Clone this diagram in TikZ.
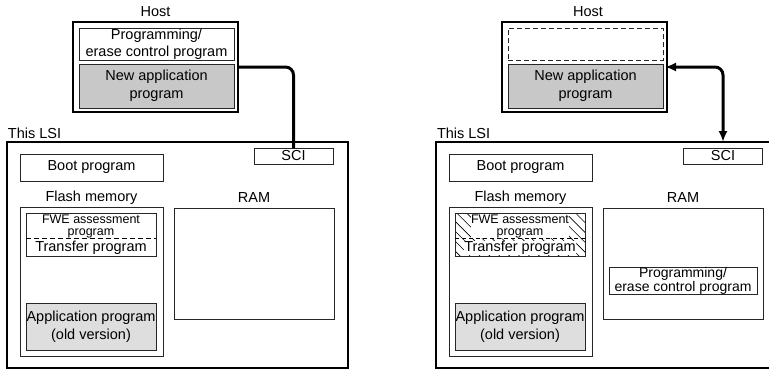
\documentclass[tikz,border=0pt]{standalone}
\usepackage{fontspec}
\setmainfont{Liberation Sans}
\usetikzlibrary{arrows.meta,patterns.meta}
\definecolor{newgray}{HTML}{C8C8C8}
\definecolor{oldgray}{HTML}{DEDEDE}
\begin{document}
\begin{tikzpicture}[x=1pt,y=-1pt,
  every node/.style={font=\fontsize{14.5}{17}\selectfont, inner sep=0pt, outer sep=0pt},
  box/.style={draw=black!85, line width=0.9pt, rectangle, align=center},
  heavy/.style={draw=black, line width=2.6pt, rectangle},
  two/.style={font=\fontsize{14.5}{18}\selectfont, align=center},
  small/.style={font=\fontsize{12.5}{12}\selectfont, align=center, fill=white},
  tight/.style={font=\fontsize{14}{14}\selectfont, align=center},
  conn/.style={line width=3pt, rounded corners=8pt},
  twoway/.style={arrows={Latex[length=11pt,width=9pt]-Latex[length=11pt,width=9pt]}},
  hatch/.style={pattern={Lines[angle=-45,distance=7pt,line width=0.6pt]}},
]
\useasboundingbox (0,0) rectangle (769,370);

% ---------------- left panel ----------------
\begin{scope}
\node[heavy, minimum width=165pt, minimum height=90pt] (hostL) at (155.5,67) {};
\node (hostlblL) at (155.5,12) {Host};
\node[box, two, font=\fontsize{14.5}{16.5}\selectfont, minimum width=155pt, minimum height=32pt] (progL) at (156.5,44) {Programming/\\erase control program};
\node[box, two, fill=newgray, minimum width=155pt, minimum height=44pt] (newL) at (156.5,86) {New application\\program};
\node[heavy, minimum width=341pt, minimum height=226pt] (lsiL) at (177.5,255) {};
\node[anchor=west] (lsilblL) at (8,133) {This LSI};
\node[box, fill=white, minimum width=79pt, minimum height=16pt] (sciL) at (293.5,156) {SCI};
\draw[conn] (hostL.east) -| (sciL.north);
\node[box, minimum width=143pt, minimum height=27pt] (bootL) at (91.5,167.5) {Boot program};
\node (flashlblL) at (91.5,198) {Flash memory};
\node (ramlblL) at (254,198) {RAM};
\node[box, minimum width=143pt, minimum height=149pt] (flashL) at (91.5,281.5) {};
\node[box, minimum width=130pt, minimum height=43pt] (fweL) at (91,234.5) {};
\node[small] (fwetL) at (91,226) {FWE assessment\\program};
\node (trL) at (91,248) {Transfer program};
\coordinate (dashaL) at (26,238);
\coordinate (dashbL) at (156,238);
\draw[line width=0.9pt, dash pattern=on 5pt off 3pt] (dashaL) -- (dashbL);
\node[box, two, fill=oldgray, minimum width=130pt, minimum height=47pt] (appL) at (91,326.5) {Application program\\(old version)};
\node[box, minimum width=160pt, minimum height=111pt] (ramL) at (254,263.5) {};
\end{scope}

% ---------------- right panel ----------------
\begin{scope}[xshift=429pt]
\node[heavy, minimum width=165pt, minimum height=90pt] (hostR) at (155.5,67) {};
\node (hostlblR) at (159,12) {Host};
\node[box, dash pattern=on 5pt off 3pt, minimum width=155pt, minimum height=32pt] (emptyR) at (156.5,44) {};
\node[box, two, fill=newgray, minimum width=155pt, minimum height=44pt] (newR) at (156.5,86) {New application\\program};
\node[heavy, minimum width=341pt, minimum height=226pt] (lsiR) at (177.5,255) {};
\node[anchor=west] (lsilblR) at (8,133) {This LSI};
\node[box, fill=white, minimum width=79pt, minimum height=16pt] (sciR) at (294,156) {SCI};
\draw[conn, twoway, shorten <=-2pt, shorten >=6pt] (hostR.east) -| (sciR.north);
\node[box, minimum width=143pt, minimum height=27pt] (bootR) at (91.5,167.5) {Boot program};
\node (flashlblR) at (91.5,198) {Flash memory};
\node (ramlblR) at (254,198) {RAM};
\node[box, minimum width=143pt, minimum height=149pt] (flashR) at (91.5,281.5) {};
\node[box, hatch, minimum width=130pt, minimum height=43pt] (fweR) at (91,234.5) {};
\node[small] (fwetR) at (91,226) {FWE assessment\\program};
\node[fill=white] (trR) at (91,248) {Transfer program};
\coordinate (dashaR) at (26,238);
\coordinate (dashbR) at (156,238);
\draw[line width=0.6pt, dash pattern=on 4pt off 3pt] (dashaR) -- (dashbR);
\node[box, two, fill=oldgray, minimum width=130pt, minimum height=47pt] (appR) at (91,326.5) {Application program\\(old version)};
\node[box, minimum width=160pt, minimum height=111pt] (ramR) at (254,263.5) {};
\node[box, tight, minimum width=148pt, minimum height=27pt] (progR) at (254,280.5) {Programming/\\erase control program};
\end{scope}
\end{tikzpicture}
\end{document}
